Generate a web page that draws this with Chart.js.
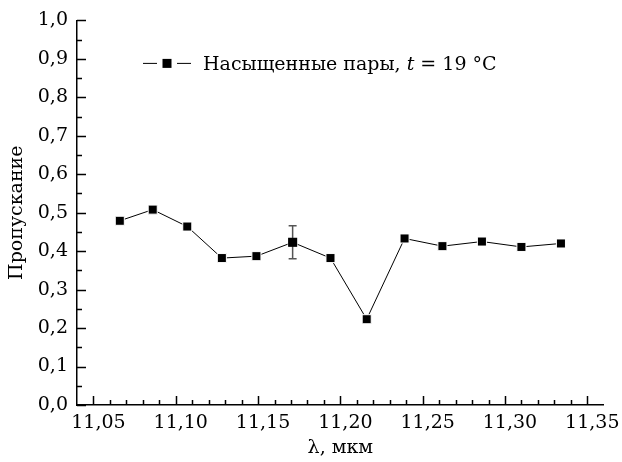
<!DOCTYPE html>
<html>
<head>
<meta charset="utf-8">
<script src="https://cdn.jsdelivr.net/npm/chart.js@4.4.0/dist/chart.umd.min.js"></script>
<style>
  html, body { margin: 0; padding: 0; background: #fff; }
  #wrap { width: 622px; height: 462px; }
</style>
</head>
<body>
<div id="wrap"><canvas id="chart" width="622" height="462"></canvas></div>
<script>
// Values
const wavelengths = [11.066, 11.086, 11.107, 11.128, 11.149, 11.171, 11.194, 11.216, 11.239, 11.262, 11.286, 11.310, 11.334];
const transmission = [0.479, 0.508, 0.464, 0.382, 0.387, 0.423, 0.382, 0.223, 0.433, 0.413, 0.425, 0.411, 0.420];

// Error bar: only one point carries it
const errIndex = [5];
const errHalf = [0.043];

const xTicks = [11.05, 11.10, 11.15, 11.20, 11.25, 11.30, 11.35];
const yTicks = [0.0, 0.1, 0.2, 0.3, 0.4, 0.5, 0.6, 0.7, 0.8, 0.9, 1.0];

const legendText = ['Насыщенные пары, ', 't', ' = 19 °C'];
const xTitle = 'λ, мкм';
const yTitle = 'Пропускание';

const FONT = '"DejaVu Serif", "Liberation Serif", serif';
const FS = 19;
const comma = (v, d) => Number(v).toFixed(d).replace('.', ',');

// inward tick marks, error bar and legend
const extras = {
    id: 'extras',
    afterDatasetsDraw(chart) {
        const { ctx, chartArea: a, scales: { x, y } } = chart;
        ctx.save();

        // error bar
        ctx.strokeStyle = '#555';
        ctx.lineWidth = 1.5;
        errIndex.forEach((i, k) => {
            const px = x.getPixelForValue(wavelengths[i]);
            const top = y.getPixelForValue(transmission[i] + errHalf[k]);
            const bot = y.getPixelForValue(transmission[i] - errHalf[k]);
            ctx.beginPath();
            ctx.moveTo(px, top); ctx.lineTo(px, bot);
            ctx.moveTo(px - 4, top); ctx.lineTo(px + 4, top);
            ctx.moveTo(px - 4, bot); ctx.lineTo(px + 4, bot);
            ctx.stroke();
        });
        // redraw marker over it
        errIndex.forEach(i => {
            const px = x.getPixelForValue(wavelengths[i]);
            const py = y.getPixelForValue(transmission[i]);
            ctx.fillStyle = '#000';
            ctx.fillRect(px - 4.5, py - 4.5, 9, 9);
        });

        // tick marks pointing inside
        ctx.strokeStyle = '#000';
        ctx.lineWidth = 1.5;
        ctx.beginPath();
        for (let i = 1105; i <= 1135; i++) {
            const px = Math.round(x.getPixelForValue(i / 100)) + 0.5;
            const len = i % 5 === 0 ? 9 : 5;
            ctx.moveTo(px, a.bottom); ctx.lineTo(px, a.bottom - len);
        }
        for (let i = 0; i <= 20; i++) {
            const py = Math.round(y.getPixelForValue(i / 20)) + 0.5;
            const len = i % 2 === 0 ? 9 : 5;
            ctx.moveTo(a.left, py); ctx.lineTo(a.left + len, py);
        }
        ctx.stroke();

        // legend
        const ly = a.top + 43;
        const lx = a.left + 66;
        ctx.lineWidth = 1;
        ctx.beginPath();
        ctx.moveTo(lx, ly); ctx.lineTo(lx + 14, ly);
        ctx.moveTo(lx + 34, ly); ctx.lineTo(lx + 48, ly);
        ctx.stroke();
        ctx.fillStyle = '#000';
        ctx.fillRect(lx + 19.5, ly - 4.5, 9, 9);

        ctx.textBaseline = 'alphabetic';
        let tx = lx + 60;
        const ty = ly + 7;
        legendText.forEach((s, i) => {
            ctx.font = (i === 1 ? 'italic ' : '') + FS + 'px ' + FONT;
            ctx.fillText(s, tx, ty);
            tx += ctx.measureText(s).width;
        });
        ctx.restore();
    }
};

new Chart(document.getElementById('chart'), {
    type: 'scatter',
    data: {
        datasets: [{
            label: legendText.join(''),
            data: wavelengths.map((w, i) => ({ x: w, y: transmission[i] })),
            showLine: true,
            borderColor: '#000',
            borderWidth: 1,
            pointStyle: 'rect',
            pointRadius: 6.4,
            pointBackgroundColor: '#000',
            pointBorderColor: '#fff',
            pointBorderWidth: 1
        }]
    },
    options: {
        responsive: false,
        animation: false,
        devicePixelRatio: 1,
        layout: { padding: { left: 0, top: 15, right: 17, bottom: 0 } },
        plugins: {
            legend: { display: false },
            tooltip: { enabled: false }
        },
        scales: {
            x: {
                type: 'linear',
                min: 11.04,
                max: 11.36,
                afterBuildTicks: s => { s.ticks = xTicks.map(v => ({ value: v })); },
                afterFit: s => { s.height = 57; },
                grid: { display: false, drawTicks: false },
                border: { display: true, color: '#000', width: 1.5 },
                ticks: {
                    color: '#000',
                    padding: 7,
                    labelOffset: 5,
                    maxRotation: 0,
                    font: { family: FONT, size: FS },
                    callback: v => comma(v, 2)
                },
                title: {
                    display: true,
                    text: xTitle,
                    color: '#000',
                    padding: { top: 0, bottom: 3 },
                    font: { family: FONT, size: FS }
                }
            },
            y: {
                min: 0,
                max: 1,
                afterBuildTicks: s => { s.ticks = yTicks.map(v => ({ value: v })); },
                afterFit: s => { s.width = 77; },
                grid: { display: false, drawTicks: false },
                border: { display: true, color: '#000', width: 1.5 },
                ticks: {
                    color: '#000',
                    padding: 9,
                    font: { family: FONT, size: FS },
                    callback: v => comma(v, 1)
                },
                title: {
                    display: true,
                    text: yTitle,
                    color: '#000',
                    padding: { top: 6, bottom: 0 },
                    font: { family: FONT, size: FS }
                }
            }
        }
    },
    plugins: [extras]
});
</script>
</body>
</html>
